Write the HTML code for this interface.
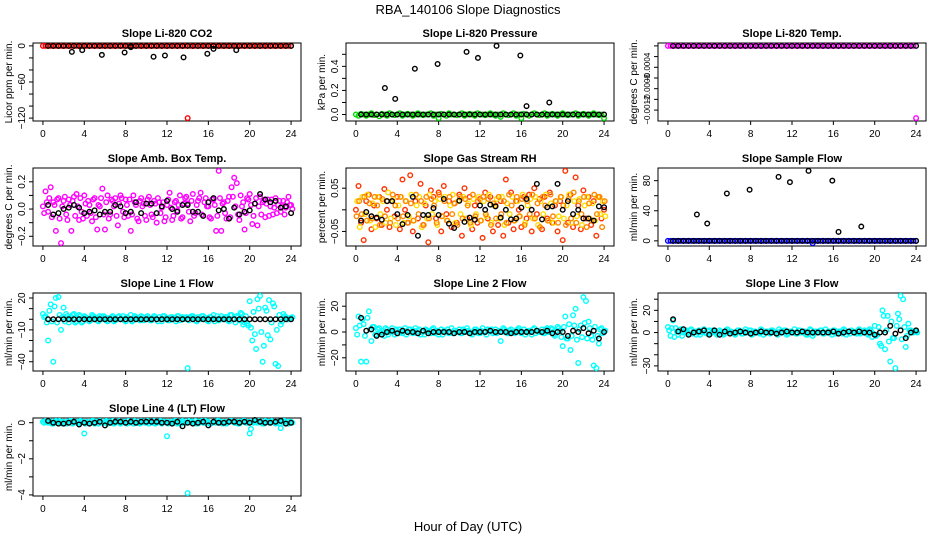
<!DOCTYPE html>
<html><head><meta charset="utf-8"><style>
body{margin:0;background:#fff;}
svg{display:block;font-family:"Liberation Sans",sans-serif;}
</style></head><body>
<svg id="chart" width="936" height="540" viewBox="0 0 936 540">
<text x="468" y="14" text-anchor="middle" font-size="13">RBA_140106  Slope Diagnostics</text>
<text x="468" y="531" text-anchor="middle" font-size="13">Hour of Day (UTC)</text>
</svg>
<script>
// ---- data ----
const xTicks = [0,4,8,12,16,20,24];
const z48 = [0,0,0,0,0,0,0,0,0,0,0,0,0,0,0,0,0,0,0,0,0,0,0,0,0,0,0,0,0,0,0,0,0,0,0,0,0,0,0,0,0,0,0,0,0,0,0,0];

const co2Red = [0,0,0,0,0,0,0,0,0,0,0,0,0,0,0,0,0,0,0,0,0,0,0,0,0,0,0,0,0,0,0,0,0,0,0,0,0,0,0,0,0,0,0,0,0,0,0,0,0,0,0,0,0,0,0,0,-120,0,0,0,0,0,0,0,0,0,0,0,0,0,0,0,0,0,0,0,0,0,0,0,0,0,0,0,0,0,0,0,0,0,0,0,0,0,0,0,0];
const co2OutX = [2.8,3.8,5.7,7.9,8.5,10.7,11.8,13.6,15.9,16.5,18.7];
const co2OutY = [-10,-7,-15,-11,-2,-18,-16,-19,-13,-5,-7];

const presGreen = [0,-0.01,0.005,0,-0.01,0,0.01,-0.005,0,-0.015,0.005,0,-0.01,0.01,0,-0.005,0,0.01,-0.01,0,0.005,0,-0.01,0,0.01,0,-0.005,0,0,0.01,-0.01,0,-0.03,0.005,0,-0.01,0.01,0,0,-0.005,0,0.01,-0.01,0,0.005,0,-0.01,0.01,0,0,-0.005,0,0.01,0,-0.01,0,-0.02,0.01,0,-0.005,0,0.01,-0.01,0,-0.03,0.005,0,-0.01,0,0.01,0,-0.005,0,0.01,-0.01,0,0.005,0,-0.01,0,0.01,0,-0.005,0,0,0.01,-0.01,0,0.005,0,-0.01,0,0.01,0,-0.005,0,-0.03];
const presOutX = [2.8,3.8,5.7,7.9,10.7,11.8,13.6,15.9,16.5,18.7];
const presOutY = [0.22,0.13,0.38,0.42,0.52,0.47,0.57,0.49,0.07,0.1];

const tempMag = [0,0,0,0,0,0,0,0,0,0,0,0,0,0,0,0,0,0,0,0,0,0,0,0,0,0,0,0,0,0,0,0,0,0,0,0,0,0,0,0,0,0,0,0,0,0,0,0,0,0,0,0,0,0,0,0,0,0,0,0,0,0,0,0,0,0,0,0,0,0,0,0,0,0,0,0,0,0,0,0,0,0,0,0,0,0,0,0,0,0,0,0,0,0,0,0,-0.00135];

const ambA = [0.02,0.13,-0.02,0.16,0.05,-0.16,0.08,-0.25,0.06,-0.04,0.07,-0.16,0.09,0.11,-0.08,-0.02,0.1,-0.05,0.03,-0.09,0.08,-0.15,0.02,0.15,-0.15,0.1,-0.04,0.06,0.08,-0.12,0.1,-0.02,0.07,-0.05,-0.16,0.1,0.03,-0.09,0.08,0.04,-0.08,0.09,-0.04,0.06,-0.1,0.05,0.01,-0.09,0.03,0.12,-0.08,0.05,-0.01,0.1,-0.06,0.08,0.04,-0.09,0.11,-0.03,0.06,0.12,-0.05,0.08,0.02,-0.07,0.07,-0.16,0.28,-0.16,0.05,-0.07,0.09,0.16,0.23,0.19,-0.08,0.02,-0.15,0.08,0.11,-0.11,0.04,-0.12,0.09,0.05,-0.06,0.07,0.02,-0.04,0.08,0.03,-0.02,0.06,0.01,0.09,0.03];
const ambB = [-0.03,0.05,0.08,-0.06,0.03,0.07,-0.07,0.02,0.09,-0.08,0.03,0.06,-0.05,0.02,0.08,-0.07,0.04,0.06,-0.03,0.07,-0.06,0.03,0.08,-0.04,0.05,-0.07,0.07,0.02,-0.05,0.04,0.08,-0.06,0.03,0.07,-0.04,0.05,-0.07,0.06,0.02,-0.05,0.07,0.03,-0.06,0.04,0.08,-0.03,0.05,-0.06,0.07,0.01,-0.05,0.06,0.03,-0.07,0.04,0.09,-0.02,0.06,-0.05,0.03,0.08,-0.04,0.05,0.02,-0.06,0.07,0.03,-0.05,0.08,0.04,-0.03,0.06,-0.06,0.09,0.02,-0.04,0.1,0.05,-0.03,0.07,0.03,-0.05,0.08,0.02,-0.04,0.06,0.04,-0.05,0.07,0.01,-0.03,0.06,0.02,-0.04,0.05,0.03,0];
const ambBlack = [0.03,-0.04,-0.03,0,0.01,0.03,0.01,-0.03,-0.02,-0.01,-0.04,-0.02,-0.02,0.03,0.02,-0.03,-0.02,0.05,-0.03,0.04,0.04,-0.03,0.02,0.06,0,-0.02,0.03,0.03,-0.02,-0.02,-0.05,0.05,0.08,-0.01,0,-0.07,0.01,-0.04,-0.02,-0.01,0.04,0.11,0.07,0.05,0.06,0.01,0.02,-0.03];

const rhA = [0,0.055,-0.03,-0.07,0.02,0.035,-0.045,0.01,-0.02,0.03,-0.035,0.048,0,-0.04,0.02,-0.015,0.03,-0.045,0.07,0,-0.03,0.08,-0.05,0.02,-0.02,0.06,-0.035,0.01,-0.075,0.045,0.03,-0.02,0.04,-0.05,0.055,-0.01,0.02,-0.04,0.015,-0.03,0.035,-0.06,0.05,-0.02,0.03,-0.045,0.01,-0.03,0.025,-0.065,0.04,-0.02,0.03,-0.05,0.01,-0.035,0.02,-0.06,0.07,-0.03,0.04,-0.045,0.02,0,-0.04,0.03,-0.02,0.035,-0.05,0.05,-0.01,0.025,-0.045,0.03,-0.02,0.04,-0.03,0.01,-0.05,0.02,-0.07,0.09,-0.03,0.035,-0.04,0.075,0.01,-0.045,0.045,-0.02,0.03,-0.035,0.02,-0.06,0.03,-0.02,0];
const rhB = [0.02,-0.04,0.03,-0.01,0.035,-0.025,0.015,-0.04,0.03,-0.01,0.02,-0.03,0.04,-0.02,0.025,-0.035,0.01,0.03,-0.03,0.02,-0.015,0.035,-0.025,0.01,0.03,-0.04,0.015,-0.02,0.035,-0.01,0.02,-0.035,0.025,-0.015,0.03,-0.025,0.01,0.035,-0.03,0.02,-0.01,0.03,-0.02,0.015,-0.035,0.025,-0.01,0.03,-0.025,0.02,-0.015,0.035,-0.03,0.01,0.025,-0.02,0.03,-0.035,0.015,-0.01,0.03,-0.025,0.02,-0.015,0.035,-0.03,0.01,0.025,-0.02,0.03,-0.035,0.02,-0.01,0.035,-0.025,0.015,-0.03,0.02,-0.015,0.03,-0.02,0.01,0.035,-0.03,0.02,-0.015,0.025,-0.035,0.01,0.03,-0.02,0.015,-0.025,0.03,-0.01,0.02,-0.015];
const rhBlack = [-0.025,-0.005,-0.015,-0.018,-0.023,0.02,0.02,-0.01,-0.033,-0.012,0.03,-0.06,-0.012,-0.012,0.004,-0.012,0.025,-0.032,-0.042,0.021,-0.028,-0.018,-0.023,0.01,0,0.012,0.008,-0.018,0,-0.022,-0.02,0.005,0.025,0,0.06,-0.022,0.006,0.008,0.06,0,0.02,-0.01,0,-0.02,-0.02,-0.025,0.008,0.006];

const flowBlue = [0,0,0,0,0,0,0,0,0,0,0,0,0,0,0,0,0,0,0,0,0,0,0,0,0,0,0,0,0,0,0,0,0,0,0,0,0,0,0,0,0,0,0,0,0,0,0,0,0,0,0,0,0,0,0,0,-3,0,0,0,0,0,0,0,0,0,0,0,0,0,0,0,0,0,0,0,0,0,0,0,0,0,0,0,0,0,0,0,0,0,0,0,0,0,0,0,0];
const flowOutX = [2.8,3.8,5.7,7.9,10.7,11.8,13.6,15.9,16.5,18.7];
const flowOutY = [35,23,63,68,85,78,93,80,12,19];

const l1A = [5,3,-20,14,-40,20,21,-10,11,5,-3,2,5,-2,4,-3,3,1,-2,4,2,-1,3,0,2,-2,1,3,-1,2,0,3,-2,1,4,-1,2,0,3,-1,2,1,-1,3,0,2,-2,3,1,-1,2,0,3,-1,2,1,-46,2,3,-1,2,0,3,1,-2,2,4,0,-1,3,1,2,-2,4,0,3,-1,5,-3,-4,17,-20,-14,19,22,-40,11,-15,-19,15,-42,-44,-5,5,2,0,1];
const l1B = [2,-3,8,-2,12,-3,4,2,-2,3,0,4,-3,1,3,-2,2,0,-1,3,1,-2,2,3,-1,1,2,-2,0,3,1,-1,2,0,-2,3,1,-1,2,0,3,-1,1,2,-2,0,3,1,-1,2,0,-2,3,1,0,2,-1,3,1,-2,0,3,1,-1,2,0,-2,3,1,0,2,-1,4,0,-3,2,6,-5,3,-6,-8,7,-28,10,-12,-25,8,18,-3,12,-10,4,-2,3,0,1,2];

const l2A = [3,12,-23,6,-23,16,-7,4,-2,3,1,-3,2,0,3,-2,1,2,-1,3,0,2,-1,3,1,-2,0,2,1,-1,3,0,-2,2,1,0,-1,3,1,0,2,-1,1,3,0,-2,2,1,-1,3,0,2,1,-1,2,0,-7,3,1,-1,2,0,1,3,-1,2,0,1,-2,3,1,0,2,-1,3,0,2,-3,4,1,-11,12,-5,-14,13,18,-24,5,27,24,8,-3,-26,-28,-9,3,0];
const l2B = [-2,5,10,-3,11,2,4,-2,2,0,-1,3,-2,1,0,2,-1,0,1,-2,2,0,1,-1,2,0,-2,1,0,2,-1,1,0,-2,1,2,0,-1,1,0,-1,2,0,1,-1,0,2,-1,1,0,-2,1,2,0,-1,1,0,2,-1,1,0,-1,2,1,0,-2,1,0,2,-1,1,0,-1,2,0,3,-2,1,3,-4,4,-5,6,-3,5,-6,2,-4,7,-5,3,-6,4,-3,2,-1,1];
const l2Black = [11,1,2,-3,-2,0,1,-1,1,0,0,-1,1,-1,0,0,0,0,-1,0,0,-1,0,0,0,1,0,0,0,-1,0,0,0,0,1,0,1,-1,0,0,-3,1,0,3,-1,1,-5,0];

const l3A = [5,-3,11,4,-2,3,0,2,-1,3,1,-2,2,0,3,-1,2,0,1,-2,2,0,-1,3,1,0,-2,2,1,-1,3,0,2,-1,1,0,3,-2,1,0,2,1,-1,3,0,2,-2,1,0,3,-1,2,0,1,-2,3,-3,1,0,2,-1,3,1,0,2,-1,1,0,3,-2,1,2,0,-1,3,0,2,-1,3,-4,6,-2,-10,20,-15,15,-26,-5,-32,17,33,30,-13,8,2,0,1];
const l3B = [2,4,-4,1,2,-3,1,0,2,-1,1,0,-2,2,0,1,-1,2,0,-1,1,-2,2,0,1,-1,0,2,-1,1,0,2,-2,1,0,-1,2,0,1,-1,2,0,-2,1,0,2,-1,1,0,-1,2,0,1,-2,0,2,-1,1,0,2,-1,0,1,-2,2,0,1,-1,2,0,-1,1,0,2,-1,0,1,-2,2,-1,-3,5,-12,15,2,-8,10,-5,6,12,-6,5,-3,2,0,1,0];
const l3Black = [12,1,3,-2,0,1,2,-2,2,-2,1,-1,0,1,0,-1,0,1,0,0,-1,0,1,0,0,1,0,0,0,0,0,1,-1,0,1,0,1,0,0,-2,0,0,6,-1,2,-5,0,2];

const l4A = [0.05,0.1,0,0.05,-0.05,0.1,0.05,0,0.05,-0.05,0.05,0.1,0,0.05,-0.05,0.05,-0.6,0.05,0,0.1,-0.05,0.05,0.1,0,0.05,-0.05,0.05,0.1,0,0.05,-0.05,0.05,0,0.1,0.05,-0.05,0.05,0,0.1,0.05,0,-0.05,0.05,0.1,0,0.05,-0.05,0.05,-0.75,0.05,0,0.1,-0.05,0.05,0.1,0,-3.9,0.05,0,0.1,-0.05,0.05,0,0.1,0.05,-0.05,0.05,0,0.1,0.05,0,-0.05,0.05,0.1,0,0.05,-0.05,0.05,0.1,0,-0.6,0.05,0.1,0,0.05,-0.05,0.1,0.05,0,0.05,-0.05,0.05,-0.3,0,0.05,-0.05,0.05];
const l4B = [0,0.05,0.1,-0.05,0.05,0,0.1,-0.05,0,0.05,0.1,-0.05,0.05,0,0.1,0.05,-0.05,0,0.05,0.1,0,-0.05,0.05,0,0.1,0.05,0,-0.05,0.05,0.1,0,0.05,-0.05,0,0.05,0.1,0,-0.05,0.05,0,0.1,0.05,0,-0.05,0.05,0.1,0,0.05,-0.05,0,0.05,0.1,0,-0.05,0.05,0,0.1,0.05,0,-0.05,0.05,0.1,0,0.05,-0.05,0,0.05,0.1,0,-0.05,0.05,0,0.1,0.05,0,-0.05,0.05,0.1,0,0.05,-0.35,0,0.05,0.1,0,-0.05,0.05,0,0.1,0.05,0,-0.05,0.05,0.1,0,0.05,0];
const l4Black = [0.1,0,-0.05,-0.05,0,0.05,-0.1,0,-0.05,0,0.05,-0.15,0,0.05,0.05,0,0.05,0,0.05,0.05,0.05,0.05,0,0,-0.05,0.05,-0.2,0,-0.05,0,0.05,-0.15,0.05,0,0,0.05,0.05,0,0.05,0,0.15,0.05,0,0,0.05,0.1,-0.05,0];

// ---- panels ----
const colL = [33,346,658], rowT = [43,168,293,418], PW = 268, PH = 78;
const panels = [
 {name:'co2',title:'Slope Li-820 CO2',ylab:'Licor ppm per min.',c:0,r:0,ymin:-120,ymax:0,ticks:[-120,-100,-80,-60,-40,-20,0],labels:[-120,-60,0],fmt:v=>String(v),
  series:[{col:'#ff0000',q:co2Red},{col:'#000',h:z48},{col:'#000',xs:co2OutX,ys:co2OutY}]},
 {name:'pressure',title:'Slope Li-820 Pressure',ylab:'kPa per min.',c:1,r:0,ymin:-0.03,ymax:0.57,ticks:[0,0.1,0.2,0.3,0.4,0.5],labels:[0,0.2,0.4],fmt:v=>v.toFixed(1),
  series:[{col:'#00dd00',q:presGreen},{col:'#000',h:z48},{col:'#000',xs:presOutX,ys:presOutY}]},
 {name:'temp',title:'Slope Li-820 Temp.',ylab:'degrees C per min.',c:2,r:0,ymin:-0.00135,ymax:0,ticks:[-0.0012,-0.001,-0.0008,-0.0006,-0.0004,-0.0002,0],labels:[-0.0012,-0.0008,-0.0004],fmt:v=>v.toFixed(4),fs:8,
  series:[{col:'#ff00ff',q:tempMag},{col:'#000',h:z48}]},
 {name:'amb-temp',title:'Slope Amb. Box Temp.',ylab:'degrees C per min.',c:0,r:1,ymin:-0.25,ymax:0.28,ticks:[-0.2,-0.1,0,0.1,0.2],labels:[-0.2,0,0.2],fmt:v=>v.toFixed(1),
  series:[{col:'#ff00ff',q:ambA},{col:'#ff00ff',q:ambB,off:0.12},{col:'#000',h:ambBlack}]},
 {name:'rh',title:'Slope Gas Stream RH',ylab:'percent per min.',c:1,r:1,ymin:-0.077,ymax:0.09,ticks:[-0.05,0,0.05],labels:[-0.05,0.05],fmt:v=>v.toFixed(2),
  series:[{col:'#ff3300',q:rhA},{col:'#ffdd00',q:rhB,off:0.12},{col:'#ff8800',q:rhB.slice().reverse(),off:0.06},{col:'#000',h:rhBlack}]},
 {name:'sample-flow',title:'Slope Sample Flow',ylab:'ml/min per min.',c:2,r:1,ymin:-3,ymax:93,ticks:[0,20,40,60,80],labels:[0,40,80],fmt:v=>String(v),
  series:[{col:'#0000ff',q:flowBlue},{col:'#000',h:z48},{col:'#000',xs:flowOutX,ys:flowOutY}]},
 {name:'line1-flow',title:'Slope Line 1 Flow',ylab:'ml/min per min.',c:0,r:2,ymin:-46,ymax:22,ticks:[-40,-30,-20,-10,0,10,20],labels:[-40,-10,20],fmt:v=>String(v),
  series:[{col:'#00ffff',q:l1A},{col:'#00ffff',q:l1B,off:0.12},{col:'#000',h:z48}]},
 {name:'line2-flow',title:'Slope Line 2 Flow',ylab:'ml/min per min.',c:1,r:2,ymin:-28,ymax:28,ticks:[-20,-10,0,10,20],labels:[-20,0,20],fmt:v=>String(v),
  series:[{col:'#00ffff',q:l2A},{col:'#00ffff',q:l2B,off:0.12},{col:'#000',h:l2Black}]},
 {name:'line3-flow',title:'Slope Line 3 Flow',ylab:'ml/min per min.',c:2,r:2,ymin:-32,ymax:33,ticks:[-30,-20,-10,0,10,20,30],labels:[-30,0,20],fmt:v=>String(v),
  series:[{col:'#00ffff',q:l3A},{col:'#00ffff',q:l3B,off:0.12},{col:'#000',h:l3Black}]},
 {name:'line4-flow',title:'Slope Line 4 (LT) Flow',ylab:'ml/min per min.',c:0,r:3,ymin:-3.9,ymax:0.1,ticks:[-4,-3,-2,-1,0],labels:[-4,-2,0],fmt:v=>String(v),
  series:[{col:'#00ffff',q:l4A},{col:'#00ffff',q:l4B,off:0.12},{col:'#000',h:l4Black}]}
];

const NS='http://www.w3.org/2000/svg';
const svg=document.getElementById('chart');
function mk(tag,attrs,parent){const e=document.createElementNS(NS,tag);for(const k in attrs)e.setAttribute(k,attrs[k]);(parent||svg).appendChild(e);return e;}

panels.forEach(p=>{
  const L=colL[p.c], T=rowT[p.r];
  const g=mk('g',{});
  
  
  const xr=24*1.08, x0=-24*0.04;
  const sx=v=>L+(v-x0)/xr*PW;
  const yr=(p.ymax-p.ymin), y0=p.ymin-yr*0.04, yspan=yr*1.08;
  const sy=v=>T+PH-(v-y0)/yspan*PH;
  const t=mk('text',{x:L+PW/2,y:T-6,'text-anchor':'middle','font-size':11,'font-weight':'bold'},g);
  t.textContent=p.title;
  
  
  const box=mk('rect',{x:L,y:T,width:PW,height:PH,fill:'none',stroke:'#000','stroke-width':1},g);
  
  
  xTicks.forEach(v=>{
    mk('line',{x1:sx(v),x2:sx(v),y1:T+PH,y2:T+PH+4,stroke:'#000'},g);
    const tx=mk('text',{x:sx(v),y:T+PH+16,'text-anchor':'middle','font-size':10},g);
    tx.textContent=v;
    
    
  });
  p.ticks.forEach(v=>{mk('line',{x1:L-4,x2:L,y1:sy(v),y2:sy(v),stroke:'#000'},g);});
  p.labels.forEach(v=>{
    const yy=sy(v);
    const ty=mk('text',{x:L-8,y:yy,'text-anchor':'middle','font-size':p.fs||10,transform:`rotate(-90 ${L-8} ${yy})`},g);
    ty.textContent=p.fmt(v).replace('-','\u2212');
    
    
  });
  const yl=mk('text',{x:L-21,y:T+PH/2,'text-anchor':'middle','font-size':10,transform:`rotate(-90 ${L-21} ${T+PH/2})`},g);
  yl.textContent=p.ylab;
  
  
  p.series.forEach(s=>{
    let pts=[];
    if(s.q) s.q.forEach((v,i)=>pts.push([i*0.25+(s.off||0),v]));
    if(s.h) s.h.forEach((v,i)=>pts.push([(i+1)*0.5,v]));
    if(s.xs) s.xs.forEach((v,i)=>pts.push([v,s.ys[i]]));
    pts.forEach(pt=>{
      const c=mk('circle',{cx:sx(pt[0]),cy:sy(pt[1]),r:2.3,fill:'none',stroke:s.col,'stroke-width':1.4},g);
      
      
    });
  });
});
</script>
</body></html>
